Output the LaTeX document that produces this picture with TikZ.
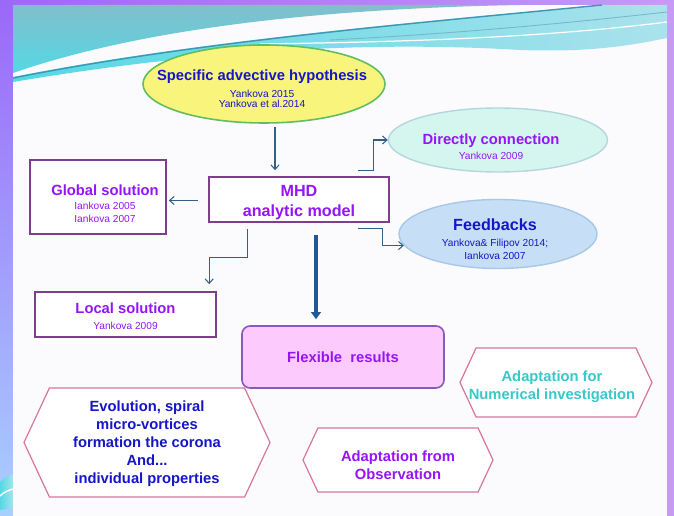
\documentclass[tikz,border=0pt]{standalone}
\usepackage{fontspec}
\setmainfont{Liberation Sans}
\usetikzlibrary{arrows.meta,calc,positioning,shapes.geometric,shapes.symbols}
\newcommand{\pxu}{0.02cm}
\newcommand{\ttlfont}{\fontsize{8.4}{10.2}\selectfont\bfseries}
\newcommand{\bigfont}{\fontsize{9.2}{11.7}\selectfont\bfseries}
\definecolor{frameviolet}{RGB}{155,104,248}
\definecolor{framelilac}{RGB}{198,154,246}
\definecolor{framesky}{RGB}{168,208,255}
\definecolor{slidewhite}{RGB}{251,251,254}
\definecolor{wavedeep}{RGB}{130,190,204}
\definecolor{wavecyan}{RGB}{84,216,228}
\definecolor{wavepale}{RGB}{170,226,236}
\definecolor{wavestripe}{RGB}{62,150,180}
\definecolor{inkblue}{RGB}{22,22,200}
\definecolor{inkviolet}{RGB}{150,20,250}
\definecolor{inkteal}{RGB}{56,200,200}
\definecolor{boxline}{RGB}{125,62,140}
\definecolor{arrowblue}{RGB}{52,96,136}
\definecolor{thickblue}{RGB}{30,88,150}
\definecolor{hypfill}{RGB}{248,244,124}
\definecolor{hypline}{RGB}{96,190,96}
\definecolor{dcfill}{RGB}{212,246,238}
\definecolor{dcline}{RGB}{180,214,222}
\definecolor{fbfill}{RGB}{198,222,246}
\definecolor{fbline}{RGB}{168,200,230}
\definecolor{flexfill}{RGB}{252,202,252}
\definecolor{flexline}{RGB}{136,90,190}
\definecolor{hexline}{RGB}{214,120,158}
\tikzset{
    hypsty/.style={ellipse,draw=hypline,fill=hypfill,line width=0.9pt,minimum width=242*\pxu,minimum height=78*\pxu},
    dcsty/.style={ellipse,draw=dcline,fill=dcfill,line width=0.8pt,minimum width=219*\pxu,minimum height=64*\pxu},
    fbsty/.style={ellipse,draw=fbline,fill=fbfill,line width=0.8pt,minimum width=198*\pxu,minimum height=69*\pxu},
    solsty/.style={rectangle,draw=boxline,fill=white,line width=0.9pt},
    flexsty/.style={rectangle,rounded corners=0.16cm,draw=flexline,fill=flexfill,line width=0.9pt,minimum width=202*\pxu,minimum height=62*\pxu},
    hexsty/.style={signal,signal to=west and east,signal pointer angle=130,draw=hexline,fill=white,line width=0.7pt},
    txtsty/.style={align=center,inner sep=0pt},
    arr/.style={->,draw=arrowblue,line width=0.6pt},
    thickarr/.style={-{Triangle[length=4pt,width=5.5pt]},draw=thickblue,line width=2.2pt},
}

\begin{document}
\begin{tikzpicture}[x=\pxu,y=-\pxu,>={Straight Barb[length=2.6pt,width=4.6pt]}]

% frame and slide
\useasboundingbox (0,0) rectangle (674,516);
\shade [left color=frameviolet, right color=framelilac] (0,0) rectangle (674,516);
\shade [top color=frameviolet, bottom color=framesky] (0,0) rectangle (13,516);
\shade [left color=wavecyan, right color=wavepale] (0,482) .. controls (4,478) and (9,476) .. (13,474) -- (13,508) -- (0,510) -- cycle;
\draw [white, line width=0.8pt] (0,496) .. controls (4,492) and (9,490) .. (13,489);
\fill [slidewhite] (13,5) rectangle (667,516);

% waves along the top
\begin{scope}
\clip (13,5) rectangle (667,516);
\shade [top color=wavedeep, bottom color=wavecyan] (13,5) -- (520,5) .. controls (360,8) and (160,22) .. (13,73) -- cycle;
\shade [left color=wavecyan, right color=wavepale] (13,77) .. controls (200,40) and (420,22) .. (600,5) -- (667,5) -- (667,38) .. controls (620,48) and (580,52) .. (520,50) .. controls (420,44) and (250,42) .. (13,82) -- cycle;
\draw [wavestripe, line width=0.8pt] (13,78) .. controls (200,41) and (420,23) .. (602,5);
\draw [wavestripe!70, line width=0.5pt] (330,40) .. controls (450,34) and (560,24) .. (667,12);
\draw [white, line width=0.7pt] (260,44) .. controls (400,42) and (540,38) .. (667,22);
\end{scope}

% hypothesis and model
\node (hyp) [hypsty] at (264,84) {};
\node (hyptxt) [txtsty, text=inkblue, font=\fontsize{5.8}{6.1}\selectfont] at ($(hyp)+(-2,5)$)
    {{\ttlfont Specific advective hypothesis}\\[3.4pt]Yankova 2015\\Yankova et al.2014};
\node (mhd) [solsty, minimum width=180*\pxu, minimum height=45*\pxu] at (299,199.5) {};
\node (mhdtxt) [txtsty, text=inkviolet, font=\bigfont] at ($(mhd)+(0,3)$) {MHD\\analytic model};

% solutions
\node (glob) [solsty, minimum width=136*\pxu, minimum height=74*\pxu] at (98,197) {};
\node (globtxt) [txtsty, text=inkviolet, font=\fontsize{5.8}{7.8}\selectfont] at ($(glob)+(7,7)$)
    {{\ttlfont Global solution}\\Iankova 2005\\Iankova 2007};
\node (loc) [solsty, minimum width=181*\pxu, minimum height=45*\pxu] at (125.5,314.5) {};
\node (loctxt) [txtsty, text=inkviolet, font=\fontsize{5.8}{8.9}\selectfont] at ($(loc)+(0,2)$)
    {{\ttlfont Local solution}\\Yankova 2009};

% references on the right
\node (dc) [dcsty] at (498,140) {};
\node (dctxt) [txtsty, text=inkviolet, font=\fontsize{5.8}{8.5}\selectfont] at ($(dc)+(-7,7)$)
    {{\ttlfont Directly connection}\\Yankova 2009};
\node (fb) [fbsty] at (498,234) {};
\node (fbtxt) [txtsty, text=inkblue, font=\fontsize{5.8}{7.2}\selectfont] at ($(fb)+(-3,5)$)
    {{\bigfont Feedbacks}\\[2.3pt]Yankova\& Filipov 2014;\\Iankova 2007};

% results and adaptations
\node (flex) [flexsty] at (343,357) {};
\node (flextxt) [txtsty, text=inkviolet, font=\ttlfont] at (flex) {Flexible\ \ results};
\node (num) [hexsty, minimum width=192*\pxu, minimum height=69*\pxu] at (556,382.5) {};
\node (numtxt) [txtsty, text=inkteal, font=\ttlfont] at ($(num)+(-4,4)$)
    {Adaptation for\\Numerical investigation};
\node (evo) [hexsty, minimum width=246*\pxu, minimum height=109*\pxu] at (147,442.5) {};
\node (evotxt) [txtsty, text=inkblue, font=\ttlfont] at ($(evo)+(0,1)$)
    {Evolution, spiral\\micro-vortices\\formation the corona\\And...\\individual properties};
\node (obs) [hexsty, minimum width=190*\pxu, minimum height=64*\pxu] at (398,460) {};
\node (obstxt) [txtsty, text=inkviolet, font=\ttlfont] at ($(obs)+(0,5)$)
    {Adaptation from\\Observation};

% connectors
\draw [arr] ($(hyp.south)+(11,3)$) -- ($(mhd.north)+(-24,-6)$);
\draw [arr] ($(mhd.west)+(-10,1)$) -- ($(mhd.west -| glob.east)+(2,1)$);
\draw [arr] ($(mhd.north east)+(-32,-6)$) -- ++(16,0) |- (dc.west);
\draw [arr] ($(mhd.south east)+(-32,6)$) -- ++(25,0) |- (fb.187);
\draw [arr] ($(mhd.south west)+(39,6)$) -- ++(0,29) -| ($(loc.north west)+(175,-7)$);
\draw [thickarr] ($(mhd.south)+(17,12)$) -- ($(flex.north)+(-27,-6)$);

\end{tikzpicture}
\end{document}
